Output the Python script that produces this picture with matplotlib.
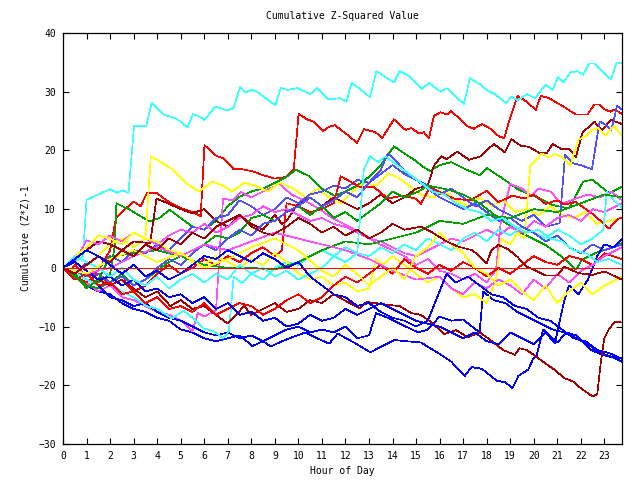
import matplotlib
matplotlib.use("Agg")
import matplotlib.pyplot as plt

# each series: (hour, cumulative value) knots
cyan_top = [(0,0),(0.5,1),(0.85,2),(1.0,11.6),(1.5,12.5),(2.0,13.4),(2.28,12.8),(2.57,13.2),(2.78,12.7),(3.02,24.2),
            (3.53,24.1),(3.77,28.1),(4.27,26.1),(4.84,25.4),(5.29,23.9),(5.52,26.2),(5.73,25.9),(6.01,25.2),(6.48,27.5),
            (6.96,26.8),(7.24,27.2),(7.53,30.8),(7.74,29.9),(8.03,30.3),(8.24,30.0),(9.02,27.7),(9.26,30.7),(9.52,30.3),
            (9.97,30.6),(10.51,29.6),(10.79,30.6),(11.29,28.7),(11.79,28.9),(12.04,28.3),(12.26,31.5),(12.57,30.6),
            (13.04,29.1),(13.32,33.5),(13.77,32.3),(14.06,31.6),(14.31,33.5),(14.62,32.9),(15.26,30.5),(15.55,31.5),
            (16.04,30.0),(16.3,30.6),(17.03,27.9),(17.29,32.3),(17.74,31.2),(18.03,30.2),(18.38,29.5),(18.81,28.1),
            (19.05,29.1),(19.31,28.6),(19.73,29.6),(20.06,28.9),(20.51,31.2),(20.8,30.3),(21.03,32.5),(21.26,31.6),
            (21.57,33.3),(21.86,33.5),(22.1,32.9),(22.35,34.8),(22.57,34.8),(23.28,32.1),(23.53,35.0),(23.75,34.8)]

red_top = [(0,0),(0.25,-1),(0.5,0.5),(1,-1.5),(1.5,-0.5),(2,3),(2.25,8.5),(2.5,9.5),(3,11.3),(3.3,10.5),(3.56,12.7),
           (3.99,12.7),(4.5,11.2),(5,10.2),(5.5,9.5),(5.85,8.8),(6.01,20.9),(6.54,19.0),(6.82,18.7),(7.25,16.8),
           (7.6,16.8),(8,16.5),(8.5,15.8),(9,15.2),(9.5,15.5),(9.8,16.7),(10.01,26.2),(10.37,25.3),(10.65,24.9),
           (11.05,23.3),(11.29,24.0),(11.55,24.3),(12.07,22.7),(12.49,21.3),(12.78,23.6),(13.28,23.1),(13.56,22.1),
           (14.06,25.3),(14.55,23.5),(14.8,23.8),(15.12,22.9),(15.33,23.1),(15.55,22.1),(15.76,25.9),(16.04,26.5),
           (16.3,26.1),(16.5,26.7),(17.18,24.1),(17.46,23.7),(17.81,24.5),(18.2,23.6),(18.52,22.4),(18.75,22.1),
           (18.95,24.9),(19.31,29.3),(19.7,28.3),(20.09,26.9),(20.3,29.3),(20.65,28.9),(21.29,27.4),(21.79,26.1),
           (22.28,26.1),(22.57,27.8),(22.78,27.8),(22.99,27.0),(23.28,26.6),(23.43,27.0),(23.75,26.2)]

darkred_top = [(0,0),(0.5,1.5),(1,3),(1.5,4.5),(2,4),(2.5,3),(3,4.5),(3.7,4.2),(3.97,11.8),(4.5,10.9),(5,10),(5.5,9.3),
               (6,10),(6.5,8),(7,7),(7.5,9),(8,7.5),(8.5,6.5),(9,9),(9.3,7.5),(9.5,8),(10,11),(10.5,12),(11,10.5),
               (11.5,12),(12,11),(12.5,10),(13,11),(13.5,12.5),(14,11),(14.5,12),(15,13.5),(15.5,14),(15.76,17.4),
               (16.07,19.0),(16.3,18.5),(16.75,19.8),(17.25,18.4),(17.74,19.0),(18.3,21.1),(18.77,19.7),(19.05,21.9),
               (19.45,20.8),(19.8,20.6),(20.23,19.6),(20.55,19.5),(20.8,21.1),(21.16,20.3),(21.5,20.3),(21.79,18.9),
               (22.07,23.0),(22.57,24.9),(22.9,23.5),(23.28,25.2),(23.75,24.5)]

green_1 = [(0,0),(0.5,-1),(1,-2),(1.5,-2.5),(2,-1),(2.2,3.7),(2.27,11),(2.84,9.9),(3.2,9),(3.69,7.9),(4.1,8.5),
           (4.53,9.9),(5,8.5),(5.5,7),(6,6.5),(6.5,8),(7,10.5),(7.5,12.1),(8,13),(8.5,13.5),(9,14.5),(9.5,15.5),
           (9.9,16.7),(10.47,15.6),(11,13.5),(11.53,12.3),(12,13),(12.5,14),(13,15.5),(13.5,17.5),(14.06,20.7),
           (14.5,19.5),(15,18.2),(15.26,17.3),(15.6,16.5),(16.0,17.5),(16.5,18),(17.1,16.8),(17.7,15.8),(18.0,17),
           (18.65,15.3),(19.36,13.3),(20.2,11.9),(20.8,10.7),(21.5,10.1),(22.1,14.7),(22.5,15),(23.2,12.7),(23.75,13.8)]

green_2 = [(0,0),(0.5,-1.5),(1,-3),(1.5,-3.5),(2,-2.5),(2.5,-1),(3,-3),(3.5,-2),(4,-0.5),(4.5,1),(5,2),(5.5,3),
           (6,4),(6.5,5.5),(7,5),(7.5,6),(8,8.5),(8.5,9),(9,8),(9.5,9.5),(10,10.5),(10.5,9),(11,10.5),(11.5,8.5),
           (12,9.5),(12.5,8),(13,9.5),(13.5,11),(14,13),(14.5,12),(15.1,13),(15.5,14),(16.4,13.3),(17,12.5),
           (17.7,11),(18.6,8.2),(19.36,6.2),(19.9,5.1),(20.5,3.9),(21.2,1.9),(21.8,-0.3),(22.05,1.4),(22.6,2.5),
           (23.2,3.3),(23.75,4.2)]

green_3 = [(0,0),(0.5,-1),(1,-3.5),(1.5,-2),(2,1.9),(3,2.5),(4,3),(5,2),(6,0.5),(7,0),(8,0),(9,-0.3),(10,1),
           (11,3),(12,4.5),(13,4),(14,5),(15,6),(16,8),(17,7.5),(18,9),(19,8.5),(20,10),(21,9.5),(22,11),(23,12.5),
           (23.75,12)]

yellow_1 = [(0,0),(0.5,1.5),(1,3),(1.5,2),(2,4),(2.5,5),(3,3.5),(3.5,5),(3.73,19.0),(4.13,18.1),(4.63,16.8),
            (5.2,14.5),(5.77,13.0),(6.34,14.7),(6.8,14),(7.2,13),(7.7,14.5),(8.2,14),(8.7,13),(9.2,14.5),(9.8,13.5),
            (10.3,12),(10.8,13.5),(11.3,12),(11.8,11),(12.3,13),(12.8,14.5),(13.3,14),(13.8,16),(14.2,15.5),
            (14.7,14),(15.2,12.5),(15.7,12),(16.2,13),(16.7,11.5),(17.2,10.5),(17.7,12),(18.2,10.5),(18.7,11.5),
            (19.2,9.5),(19.7,10),(20.2,9),(20.7,10.5),(21.2,9),(21.7,8.5),(22.2,9.5),(22.7,7.5),(23.2,8),(23.75,8.5)]

yellow_2 = [(0,0),(0.5,2),(1,3.5),(1.5,5.5),(2,5),(2.5,4),(3,6),(3.5,5),(4,4.5),(4.5,3),(5,2.5),(5.5,1),(6,0.5),
            (6.5,2),(7,1),(7.5,0),(8,1.5),(8.5,0.5),(9,2.5),(9.5,1),(10,-1),(10.5,-2),(11,-1.5),(11.5,-3),(12,-2.5),
            (12.5,-4),(13,-3.5),(13.3,1.5),(13.6,0.5),(14,2),(14.5,0.5),(15,-1),(15.5,-2.5),(16,-1.5),(16.5,-3.5),
            (17,-5),(17.5,-4.5),(18,-6),(18.4,-2),(18.6,5),(19,4),(19.3,6),(19.6,5),(19.85,17.3),(20.13,18.5),
            (20.34,19.5),(20.6,18.8),(20.9,19.4),(21.2,18.9),(21.55,17.4),(21.9,21.8),(22.19,22.4),(22.47,23.5),
            (22.75,23.8),(23.04,22.5),(23.4,24.2),(23.75,22.5)]

yellow_3 = [(0,0),(1,-1),(2,1.5),(3,3),(4,1),(5,2.5),(6,0),(7,1.5),(8,3.5),(9,5),(10,3),(11,-0.5),(11.5,-1.5),
            (12,0.5),(12.5,-1),(13,-3),(13.5,-1.5),(14,0),(14.5,-2),(15,2),(15.5,3.5),(16,6),(16.5,4),(17,2.5),
            (17.5,0),(18,-1),(18.5,-3),(19,-2),(19.5,-4),(20,-5.5),(20.5,-3),(21,-6),(21.5,-4),(22,-2.5),(22.5,-4.5),
            (23,-3),(23.75,-1.5)]

magenta_1 = [(0,0),(0.5,-1.5),(1,-2.5),(1.5,-4),(2,-3),(2.5,-5),(3,-5.5),(3.5,-6.5),(4,-7.5),(4.5,-8),(5.1,-9.2),
             (5.5,-10.8),(5.73,-7.7),(6.0,-8.3),(6.5,-7.2),(6.8,11.8),(7.2,11.5),(7.57,12.9),(8,12),(8.5,13),
             (9.2,14.3),(9.7,12.5),(10.3,11.4),(10.9,10),(11.4,8.6),(12.2,6.9),(12.9,5.4),(13.3,4.3),(13.9,3.2),
             (14.5,2),(15,0.5),(15.5,1.5),(16,-0.5),(16.5,-1),(17,-2),(17.5,-1),(18,-2.5),(18.4,-0.3),(18.6,7.8),
             (19,14.3),(19.5,13.5),(19.9,12.3),(20.2,13.5),(20.7,13),(21.2,10.9),(21.8,11.8),(22.3,12.5),(22.8,12),
             (23.3,13),(23.75,11.5)]

magenta_2 = [(0,0),(0.5,1),(1,4.7),(1.5,4),(2,5.5),(2.5,4.5),(3,6),(3.5,5),(4,4),(4.5,5.5),(5,6.5),(5.5,6),(6,7.5),
             (6.5,6),(7,7),(7.5,8.5),(8,9),(8.5,10.5),(9,9.5),(9.5,10),(10,9),(10.5,8),(11,8.5),(11.5,7.5),(12,7),
             (12.5,6),(13,5),(13.5,4.5),(14,3.5),(14.5,2.5),(15,2),(15.5,3),(16,4),(16.5,5),(17,4.5),(17.5,5.5),
             (18,6.5),(18.5,5.5),(19,7),(19.5,6),(20,8),(20.5,7),(21,8.5),(21.5,9),(22,8),(22.5,10),(23,9.5),(23.75,11)]

magenta_3 = [(0,0),(1,-1),(2,0),(3,2),(4,3.5),(5,2),(6,4),(7,3),(8,4.5),(9,6),(10,5),(11,4),(12,3),(13,1.5),
             (14,-0.5),(15,-2),(16,-1.5),(16.5,-3.5),(17,-4.5),(17.5,-2.5),(18,-3.5),(18.5,-2),(19,-3),(19.5,-4.5),
             (20,-2),(20.5,-3.5),(21,-1),(21.5,-2.5),(22,-0.5),(22.5,0.5),(23,2),(23.75,3.5)]

cyan_2 = [(0,0),(0.5,-1),(1,-2),(1.5,-3),(2,-2.5),(2.5,-4),(3,-5),(3.2,-5.5),(3.56,-6.5),(4,-7),(4.63,-8.6),
          (5.13,-7.3),(5.5,-8.5),(5.98,-10.3),(6.4,-10.8),(6.8,-12.0),(7.05,-10.8),(7.25,-1.5),(7.6,-2.6),(8,-1),
          (8.5,-2),(9,0),(9.5,1),(10,0.5),(10.5,2),(11,3),(11.5,2),(12,3.5),(12.5,2.5),(13,2),(13.5,3.5),(14,2.5),
          (14.5,4),(15,3),(15.5,5),(16,4),(16.5,3),(17,5),(17.5,6),(18,4.5),(18.5,6.5),(19,5.5),(19.5,7),(20,6),
          (20.5,5),(21,6.5),(21.5,5.5),(22,4),(22.5,5),(22.96,6.5),(23.1,12.9),(23.4,11.5),(23.75,10.2)]

cyan_3 = [(0,0),(0.5,2),(1,1),(1.5,0),(2,-1.5),(2.5,0),(3,-2),(3.5,-3),(4,-1.5),(4.5,-3.5),(5,-2),(5.5,-1),
          (6,-2.5),(6.5,-1),(7,-2),(7.5,0.5),(8,-1),(8.5,0),(9,-1.5),(9.5,-0.5),(10,-2),(10.5,-1),(11,0),(11.5,2),
          (12,1),(12.5,2.5),(12.78,16.7),(13.04,19),(13.4,18),(13.7,19),(14.2,17.5),(14.7,16),(15.2,14.5),(15.7,13),
          (16.2,12.5),(16.7,11),(17.2,10),(17.7,9.5),(18.2,8),(18.7,8.5),(19.2,7),(19.7,6),(20.2,6.5),(20.7,5),
          (21.2,4.5),(21.7,3),(22.2,2.5),(22.7,1),(23.2,1.5),(23.75,0.5)]

lightblue_1 = [(0,0),(0.5,-1),(1,1),(1.5,0),(2,2),(2.5,1),(3,3),(3.5,2.5),(4,4),(4.5,3),(5,5),(5.5,7),(6,6.5),
               (6.5,8.5),(7,9),(7.5,11.5),(8,10.5),(8.5,9),(9,10),(9.5,12),(10,11),(10.5,12.5),(11,13),(11.5,14),
               (12,13.5),(12.5,15),(13,14.5),(13.5,16.7),(13.8,19.5),(14.2,18),(14.6,16),(15,15),(15.5,14),(16,12.5),
               (16.5,13.5),(17,12),(17.5,10.5),(18,11.5),(18.5,10),(19,9),(19.5,8),(20,9),(20.5,7),(21.1,7.6),
               (21.33,19.3),(21.69,17.8),(22.0,17.5),(22.47,16.8),(22.8,24.9),(23.0,24.5),(23.3,23.5),(23.54,27.6),
               (23.75,27.0)]

lightblue_2 = [(0,0),(0.5,-0.5),(1,-1.5),(1.5,-1),(2,-2.5),(2.5,-1.5),(3,-3),(3.5,-2),(4,0),(4.5,1.5),(5,0.5),
               (5.5,2.5),(6,4),(6.5,3),(7,5),(7.5,6.5),(8,5.5),(8.5,7.5),(9,8),(9.5,9.5),(10,10.5),(10.5,12),(11,10.5),
               (11.5,11.5),(12,13),(12.5,12),(13,14.5),(13.5,16),(14,17.5),(14.5,16),(15,15),(15.5,13.5),(16,12),
               (16.5,11),(17,10),(17.5,11),(18,9.5),(18.5,8),(19,8.5),(19.5,7),(20,6),(20.5,4.5),(21,5.5),(21.5,3.5),
               (22,2.5),(22.5,4),(23,3),(23.75,4)]

blue_1 = [(0,0),(0.5,-1.5),(1,-3),(1.5,-4),(2,-4.5),(2.5,-6),(3,-7),(3.5,-7.5),(4,-8.5),(4.5,-9),(5,-10.5),
          (5.5,-11),(6,-12),(6.5,-12.5),(7,-12),(7.5,-11.5),(8.05,-13.3),(8.5,-12.5),(8.83,-13.4),(9.3,-12.5),
          (9.82,-11.7),(10.3,-11),(10.8,-12),(11.31,-12.9),(11.67,-11.2),(12.31,-12.6),(13.06,-14.4),(13.52,-13.4),
          (14.09,-12.3),(14.6,-12.5),(15.2,-12.7),(16.06,-14.8),(16.5,-16),(17.07,-18.4),(17.36,-16.9),(17.8,-17.2),
          (18.42,-19.2),(18.8,-19.5),(19.09,-20.5),(19.35,-18.4),(19.77,-17.3),(19.96,-15.6),(20.13,-14.8),
          (20.4,-10.5),(21,-12.7),(21.4,-11),(21.8,-11.5),(22.45,-14),(22.9,-14.8),(23.3,-15.2),(23.75,-15.4)]

blue_2 = [(0,0),(0.5,-2),(1,-1),(1.5,-3),(2,-5),(2.5,-5.5),(3,-6.5),(3.5,-6),(4,-7.5),(4.5,-8.5),(5,-9),(5.5,-10),
          (6,-11),(6.5,-11.5),(7,-11),(7.5,-12),(8,-11.5),(8.5,-12.5),(9,-11.5),(9.5,-10.5),(10,-10),(10.5,-11),
          (11,-10.5),(11.5,-11),(12,-10),(12.5,-12),(13,-11.5),(13.3,-7.7),(13.8,-8.5),(14.3,-9.5),(15.1,-11),
          (15.5,-10.5),(16,-8.3),(16.5,-9),(17,-8.8),(17.7,-11),(17.85,-4),(18.3,-5.5),(18.8,-6),(19.3,-7.5),
          (19.8,-8.5),(20.3,-9.5),(20.8,-10.5),(21.3,-11),(21.8,-12),(22.3,-13),(22.8,-14.5),(23.2,-15),(23.5,-15.5),
          (23.75,-16)]

blue_3 = [(0,0),(0.5,1),(1,-0.5),(1.5,-2),(2,-1.5),(2.5,-3),(3,-2),(3.5,-4),(4,-3.5),(4.5,-5),(5,-4.5),(5.5,-6),
          (6,-5),(6.5,-7),(7,-6),(7.5,-8),(8,-7.5),(8.5,-9),(9,-8.5),(9.5,-10),(10,-9.5),(10.5,-8),(11,-9),(11.5,-8.5),
          (12,-7),(12.5,-8),(13,-7),(13.5,-6),(14,-7),(14.5,-8),(15,-9),(15.5,-9.5),(16,-10),(16.5,-11),(17,-12),
          (17.5,-11),(18,-12.5),(18.5,-13),(19,-11),(19.5,-12),(20,-13),(20.5,-11),(20.9,-12.8),(21.3,-5.5),(21.5,-3),
          (21.9,-4.5),(22.3,-2),(22.7,2),(23,4),(23.4,3.5),(23.75,5)]

blue_4 = [(0,0),(0.5,1.5),(1,3),(1.5,2),(2,0.5),(2.5,-1),(3,0.5),(3.5,-1.5),(4,-0.5),(4.5,-2),(5,-1),(5.5,0.5),
          (6,2),(6.5,1.5),(7,3),(7.5,2),(8,1),(8.5,2.5),(9,1.5),(9.5,0),(10,1),(10.5,-1.5),(11,-3),(11.5,-4.5),(12,-5),
          (12.5,-6.5),(13,-6),(13.5,-7.5),(14,-8.5),(14.5,-9),(15,-10),(15.5,-9),(15.8,-6),(16.3,-1),(16.7,-2.5),
          (17.2,-1.5),(17.7,-3),(18.2,-4.5),(18.7,-5),(19.2,-6.5),(19.7,-7),(20.2,-8.5),(20.7,-9),(21.2,-10.5),
          (21.7,-12),(22.2,-12.5),(22.7,-14),(23.2,-14.5),(23.75,-15.5)]

darkred_low = [(0,0),(0.5,1),(1,-0.5),(1.5,-2),(2,-3),(2.5,-2),(3,-3.5),(3.5,-5),(4,-4),(4.56,-6.5),(5,-5.5),
               (5.5,-7),(6,-6.5),(6.5,-8),(7,-9.5),(7.7,-6.5),(8,-8),(8.5,-7),(9,-6),(9.5,-7.5),(10,-7),(10.5,-5.5),
               (11,-6),(11.5,-4.5),(11.95,-5.5),(12.6,-6.9),(12.9,-5.8),(13.8,-6.3),(14.3,-6.5),(14.8,-7.7),(15.2,-8),
               (15.6,-9.1),(16.2,-11.3),(16.7,-10.6),(17.2,-11.8),(17.7,-11),(18.1,-12.1),(18.7,-14),(19.2,-14.8),
               (19.4,-13.7),(19.7,-14),(20,-14.8),(20.4,-16),(20.9,-17.4),(21.3,-18.8),(21.7,-19.4),(22.0,-20.5),
               (22.5,-21.9),(22.7,-21.5),(22.85,-16),(23.0,-12),(23.2,-10.4),(23.45,-9.2),(23.75,-9.3)]

darkred_mid = [(0,0),(0.5,-1),(1,0.5),(1.5,2),(2,1),(2.5,3),(3,2),(3.5,4),(4,3),(4.5,5),(5,4),(5.5,6),(6,5),
               (6.5,7),(7,8),(7.5,9),(8,7),(8.5,6),(8.9,5.6),(9.5,7),(10,8.5),(10.5,7.5),(11,6),(11.5,7),(12,5.5),
               (12.5,6.5),(13,5),(13.5,6),(14,7.5),(14.5,6.5),(15.2,7),(15.7,6),(16.3,4.5),(16.8,3.6),(17.4,3),
               (18.0,0.8),(18.2,3),(18.5,3.9),(18.9,3.2),(19.3,1.9),(19.7,0.2),(20.1,-0.5),(20.5,-1.3),(21.0,-1.3),
               (21.3,0.2),(21.9,-0.9),(22.5,-1.2),(23,-0.6),(23.75,-2)]

red_mid = [(0,0),(0.5,-1.5),(1,-2.5),(1.5,-1),(2,-3),(2.5,-2),(3,-4),(3.5,-3),(4,-1),(4.5,0.5),(5,-1),(5.5,0),
           (6,1.5),(6.5,0.5),(7,2),(7.5,1),(8,2.5),(8.5,3.5),(9,2),(9.3,3),(9.5,11),(10,10.5),(10.5,9.5),(11,10),
           (11.5,11),(11.8,15.6),(12.6,13.8),(13.2,13.8),(13.8,11.8),(14.4,12.3),(15.0,11.8),(15.2,10.9),(15.6,13.8),
           (16.1,12.7),(16.6,11.8),(17.3,11.5),(18.0,13.1),(18.5,11.2),(19.1,12.3),(19.6,11.8),(20.0,12.5),(20.5,10.9),
           (21.0,11.5),(21.3,10.8),(21.8,11.2),(22.5,9.2),(23.2,6.7),(23.6,8.4),(23.75,8.5)]

red_low = [(0,0),(0.5,-2),(1,-1),(1.5,-3),(2,-2.5),(2.5,-4.5),(3,-4),(3.5,-6),(4,-5),(4.5,-7),(5,-6.5),(5.5,-7.5),
           (6,-6),(6.5,-8),(7,-7),(7.5,-6),(8,-6.5),(8.5,-8),(9,-7),(9.5,-5.5),(10,-4.5),(10.5,-6),(11,-5),(11.5,-3),
           (12,-1.5),(12.5,-2.5),(13,-1),(13.5,0.5),(14,-1),(14.5,1.5),(15,0),(15.5,-1),(16,0.5),(16.5,-0.5),(17,1),
           (17.5,0),(18,-1.5),(18.5,0),(19,-1),(19.5,0.5),(20,2),(20.5,1),(21,0.5),(21.5,2),(22,1.5),(22.5,0.5),
           (23,2.5),(23.75,1.5)]

series = [
    (red_top, "#ff0000"), (green_1, "#00a000"), (blue_1, "#0000ff"), (magenta_1, "#ff50ff"),
    (cyan_top, "#40ffff"), (yellow_1, "#ffff00"), (darkred_top, "#a00000"), (lightblue_1, "#5050ff"),
    (red_mid, "#ff0000"), (green_2, "#00a000"), (blue_2, "#0000ff"), (magenta_2, "#ff50ff"),
    (cyan_2, "#40ffff"), (yellow_2, "#ffff00"), (darkred_low, "#a00000"), (lightblue_2, "#5050ff"),
    (red_low, "#ff0000"), (green_3, "#00a000"), (blue_3, "#0000ff"), (magenta_3, "#ff50ff"),
    (cyan_3, "#40ffff"), (yellow_3, "#ffff00"), (darkred_mid, "#a00000"), (blue_4, "#0000ff"),
]

plt.rcParams["font.family"] = "DejaVu Sans Mono"
plt.rcParams["font.size"] = 7

fig = plt.figure(figsize=(6.4, 4.8), dpi=100)
ax = fig.add_axes([63/640, 36/480, 559/640, 411/480])

for s, c in series:
    hrs, vals = zip(*s)
    ax.plot(hrs, vals, color=c, lw=0.5, antialiased=False)

ax.axhline(0, color="#ff0000", lw=0.5, antialiased=False)

ax.set_xlim(0, 23.75)
ax.set_ylim(-30, 40)
ax.set_xticks(range(24))
ax.set_yticks(range(-30, 41, 10))
ax.tick_params(direction="in", top=True, right=True, length=4, width=0.8, pad=5, labelsize=7)
for sp in ax.spines.values():
    sp.set_linewidth(0.9)

ax.set_title("Cumulative Z-Squared Value", fontsize=7, pad=10)
ax.set_xlabel("Hour of Day", fontsize=7, labelpad=4)
ax.set_ylabel("Cumulative (Z*Z)-1", fontsize=7, labelpad=6)

fig.savefig("out.png", dpi=100)
